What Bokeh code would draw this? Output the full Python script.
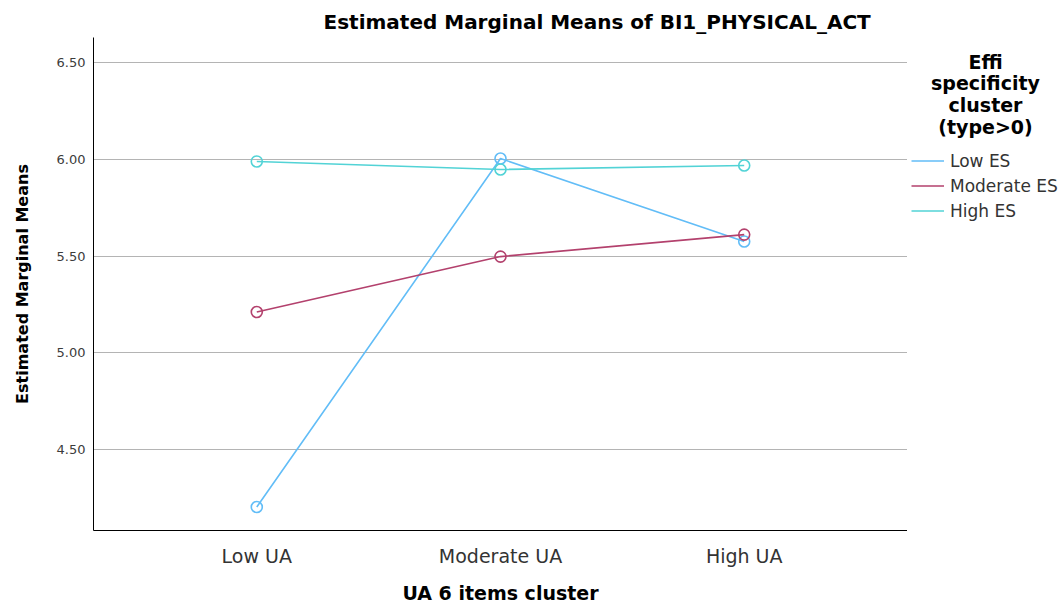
from bokeh.plotting import figure
from bokeh.layouts import row
from bokeh.models import Range1d, FixedTicker, Legend, LegendItem, Label
from bokeh.embed import file_html
from bokeh.resources import INLINE

# ---- data ----
ua_categories = ["Low UA", "Moderate UA", "High UA"]
y_ticks = [4.5, 5.0, 5.5, 6.0, 6.5]
y_tick_labels = ["4.50", "5.00", "5.50", "6.00", "6.50"]
low_es = [4.20, 6.005, 5.575]
moderate_es = [5.21, 5.497, 5.611]
high_es = [5.99, 5.948, 5.969]
series_names = ["Low ES", "Moderate ES", "High ES"]
series_colors = ["#62bdf7", "#b3416d", "#52d3d6"]
legend_title_lines = ["Effi", "specificity", "cluster", "(type>0)"]
chart_title = "Estimated Marginal Means of BI1_PHYSICAL_ACT"

FONT = "DejaVu Sans"
H = 612
xs = list(range(1, len(ua_categories) + 1))
series_values = [low_es, moderate_es, high_es]

p = figure(width=907, height=H, output_backend="svg", toolbar_location=None,
           x_range=Range1d(0.33, 3.67), y_range=Range1d(4.078, 6.632),
           min_border_left=93, min_border_right=0, min_border_top=37, min_border_bottom=82)
p.outline_line_color = None
p.background_fill_color = "white"

# title
p.title.text = chart_title
p.title.align = "left"
p.title.offset = 230
p.title.standoff = 8
p.title.text_font = FONT
p.title.text_font_size = "20px"
p.title.text_font_style = "bold"
p.title.text_color = "black"

# axes
p.xaxis.ticker = FixedTicker(ticks=xs)
p.xaxis.major_label_overrides = {x: lab for x, lab in zip(xs, ua_categories)}
p.yaxis.ticker = FixedTicker(ticks=y_ticks)
p.yaxis.major_label_overrides = {t: lab for t, lab in zip(y_ticks, y_tick_labels)}
for ax in (p.xaxis[0], p.yaxis[0]):
    ax.axis_line_color = "black"
    ax.axis_line_width = 1
    ax.major_tick_line_color = None
    ax.minor_tick_line_color = None
    ax.major_tick_out = 0
    ax.major_tick_in = 0
    ax.major_label_text_font = FONT
    ax.axis_label_text_font = FONT
    ax.axis_label_text_font_style = "bold"
    ax.axis_label_text_color = "black"

p.xaxis.axis_label = "UA 6 items cluster"
p.xaxis.axis_label_text_font_size = "19px"
p.xaxis.major_label_text_font_size = "19px"
p.xaxis.major_label_text_color = "#333333"
p.xaxis.major_label_standoff = 14
p.xaxis.axis_label_standoff = 12

p.yaxis.axis_label = "Estimated Marginal Means"
p.yaxis.axis_label_text_font_size = "16px"
p.yaxis.major_label_text_font_size = "13px"
p.yaxis.major_label_text_color = "#3c3c3c"
p.yaxis.major_label_standoff = 8
p.yaxis.axis_label_standoff = 22

p.xgrid.grid_line_color = None
p.ygrid.grid_line_color = "#b4b4b4"
p.ygrid.grid_line_width = 1

# series
for name, vals, col in zip(series_names, series_values, series_colors):
    p.line(xs, vals, line_color=col, line_width=1.6)
    p.scatter(xs, vals, marker="circle", size=11, fill_color=None, line_color=col, line_width=1.6)

# ---- side panel holding the legend (its frame is aligned with the main frame) ----
p2 = figure(width=153, height=H, output_backend="svg", toolbar_location=None,
            x_range=Range1d(0.33, 3.67), y_range=Range1d(4.078, 6.632),
            x_axis_location=None, y_axis_location=None, min_border=0)
p2.outline_line_color = None
p2.grid.visible = False

items = []
for name, vals, col in zip(series_names, series_values, series_colors):
    r = p2.line(xs, vals, line_color=col, line_width=1.6, visible=False)
    items.append(LegendItem(label=name, renderers=[r]))

legend = Legend(items=items, location=(4, 309), orientation="vertical",
                glyph_width=33, glyph_height=21, label_height=21, spacing=4,
                padding=0, margin=0, label_standoff=6,
                label_text_font=FONT, label_text_font_size="17px", label_text_color="#333333",
                border_line_color=None, background_fill_alpha=0,
                inactive_fill_alpha=0)
p2.add_layout(legend, "center")

for txt, yy in zip(legend_title_lines, [469, 448, 426, 404]):
    p2.add_layout(Label(x=78, y=yy, x_units="screen", y_units="screen", text=txt,
                        text_align="center", text_baseline="middle",
                        text_font=FONT, text_font_size="19px", text_font_style="bold",
                        text_color="black"))

open("out.html", "w").write(file_html(row(p, p2), INLINE))
